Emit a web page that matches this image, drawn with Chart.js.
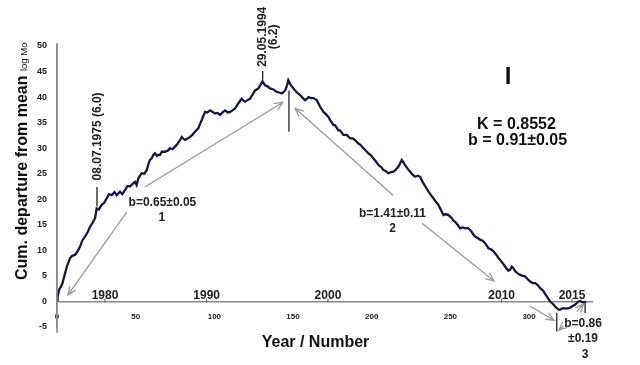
<!DOCTYPE html>
<html>
<head>
<meta charset="utf-8">
<script src="https://cdn.jsdelivr.net/npm/chart.js@4.4.1/dist/chart.umd.min.js"></script>
<style>
  html, body { margin: 0; padding: 0; background: #fff; }
  canvas { display: block; }
</style>
</head>
<body>
<canvas id="chart" width="640" height="365"></canvas>
<script>
// Sequential event number along the record
const seqNumber = [
  0, 0.4, 1.5, 2.5, 3.5, 5.1, 6.5, 8.3, 9.5, 11.4, 13.0, 14.6, 16.0, 17.8, 19.5, 21.0, 22.6, 24.2, 25.2, 26.5,
  28.4, 30.0, 31.6, 33.0, 34.8, 36.5, 38.0, 40.0, 41.5, 43.2, 44.8, 46.4, 48.0, 49.6, 50.6, 51.7, 53.8, 55.5, 57.0, 58.0,
  59.1, 60.2, 61.2, 62.3, 63.5, 64.4, 65.5, 66.6, 68.7, 70.8, 71.8, 73.5, 75.0, 76.5, 78.2, 79.3, 80.4, 81.4, 83.0, 84.6,
  86.0, 87.7, 89.8, 91.0, 92.0, 93.0, 94.1, 95.5, 97.3, 99.0, 100.4, 102.0, 103.6, 105.2, 106.8, 108.5, 110.0, 111.5, 113.2, 115.3,
  117.4, 118.5, 119.5, 121.0, 122.7, 124.3, 125.9, 128.0, 129.2, 130.6, 131.4, 132.2, 133.8, 135.4, 137.5, 139.7, 141.3, 142.9, 144.0, 145.0,
  146.2, 147.0, 148.5, 150.2, 151.3, 152.8, 154.5, 156.6, 157.7, 159.0, 159.8, 161.5, 163.0, 164.0, 165.1, 166.1, 167.2, 168.5, 169.3, 170.4,
  172.5, 173.6, 175.7, 176.7, 178.8, 179.9, 182.0, 184.2, 186.3, 188.0, 189.4, 191.5, 193.0, 194.7, 196.3, 197.9, 199.5, 201.1, 202.7, 204.3,
  206.0, 207.5, 209.0, 210.6, 212.2, 213.8, 215.0, 217.0, 218.0, 219.1, 220.2, 221.2, 222.8, 224.4, 226.0, 227.6, 229.2, 230.8, 232.0, 232.9,
  234.5, 236.1, 237.7, 239.2, 240.8, 242.4, 244.0, 245.6, 247.2, 248.8, 250.9, 252.0, 253.0, 254.6, 256.2, 257.8, 259.4, 261.0, 262.6, 264.2,
  265.7, 267.3, 268.9, 270.5, 272.1, 273.2, 274.2, 275.8, 277.4, 279.0, 280.6, 282.2, 283.7, 285.3, 286.9, 288.0, 289.0, 290.1, 291.2, 292.8,
  294.3, 296.0, 297.5, 299.0, 300.7, 302.3, 303.9, 305.5, 307.1, 308.2, 309.2, 310.2, 311.3, 312.3, 313.4, 314.5, 315.5, 316.6, 317.7, 318.8,
  319.8, 320.9, 321.9, 323.5, 325.1, 326.2, 327.2, 328.3, 329.3, 330.4, 331.5, 332.5, 333.6, 334.6, 335.5, 336.3
];

// Cumulative departure from the mean magnitude (log Mo)
const cumDeparture = [
  0.3, 1.0, 2.4, 2.9, 3.6, 5.5, 7.0, 8.5, 8.9, 9.1, 9.8, 10.7, 11.9, 12.7, 13.6, 14.6, 15.4, 16.3, 18.2, 18.0,
  18.9, 19.3, 20.2, 21.0, 20.8, 21.4, 20.8, 21.5, 21.0, 21.8, 22.6, 22.5, 23.0, 23.4, 22.8, 24.1, 25.1, 25.0, 25.7, 26.8,
  27.7, 28.0, 28.7, 29.0, 28.5, 28.7, 28.7, 29.3, 29.3, 29.6, 30.0, 29.8, 30.3, 30.8, 31.6, 32.2, 31.8, 31.6, 31.9, 32.2,
  32.6, 33.2, 33.9, 34.8, 35.5, 36.3, 37.1, 37.0, 37.4, 37.1, 36.8, 36.9, 36.5, 37.0, 37.4, 37.0, 37.1, 37.4, 37.8, 38.8,
  39.7, 39.3, 39.1, 39.4, 39.7, 40.5, 41.3, 41.7, 42.3, 43.1, 42.7, 42.3, 42.1, 41.7, 41.5, 41.0, 40.9, 40.7, 41.0, 41.3,
  42.3, 43.3, 42.4, 41.7, 41.3, 40.8, 40.4, 39.7, 39.4, 39.7, 40.0, 39.8, 39.8, 39.6, 39.4, 38.8, 38.1, 37.5, 37.1, 36.8,
  36.1, 35.5, 34.5, 34.5, 33.5, 33.5, 32.6, 32.6, 31.9, 31.9, 31.6, 30.9, 30.6, 30.0, 29.5, 29.0, 28.6, 28.0, 27.4, 26.7,
  26.3, 25.7, 25.5, 25.1, 25.3, 25.4, 25.7, 26.4, 27.0, 27.7, 27.2, 26.7, 26.0, 25.4, 24.8, 24.4, 24.6, 24.4, 23.6, 23.1,
  22.3, 21.5, 20.8, 20.2, 19.5, 18.9, 17.9, 16.9, 17.1, 16.9, 16.3, 15.8, 15.6, 15.0, 14.3, 14.5, 14.3, 14.4, 14.0, 13.3,
  12.7, 12.4, 12.1, 11.9, 11.4, 10.9, 10.4, 10.2, 9.8, 9.2, 8.5, 7.9, 7.3, 6.6, 6.0, 6.2, 6.8, 6.5, 5.9, 5.5,
  5.2, 5.0, 4.9, 4.4, 3.9, 3.6, 3.6, 3.2, 2.6, 2.3, 2.0, 1.5, 1.0, 0.5, 0.0, -0.3, -0.6, -1.0, -1.3, -1.6,
  -1.6, -1.4, -1.3, -1.4, -1.3, -1.2, -1.0, -0.8, -0.6, -0.3, 0.0, 0.1, -0.1, -0.2, -0.1, 0.0
];

const yTicks = [-5, 0, 5, 10, 15, 20, 25, 30, 35, 40, 45, 50];
const xTicks = [0, 50, 100, 150, 200, 250, 300];
const yearLabels = ['1980', '1990', '2000', '2010', '2015'];
const yearAtNumber = [30.5, 95.1, 172.2, 282.6, 327.3];

const FONT = 'Arial, "Liberation Sans", Helvetica, sans-serif';

// Segment boundaries and event markers, in (number, value) units
const markers = [
  { n: 25.4, v1: 18.6, v2: 22.4 },
  { n: 130.7, v1: 43.4, v2: 45.1 },
  { n: 147.4, v1: 33.2, v2: 41.3 },
  { n: 317.6, v1: -2.2, v2: -5.9 },
  { n: 335.6, v1: 0.0, v2: -2.3 }
];

// Trend arrows (tail -> head)
const arrows = [
  { from: [44.3, 17.5], to: [7.0, 1.3] },
  { from: [55.9, 22.4], to: [143.6, 39.0] },
  { from: [213.5, 20.8], to: [151.3, 37.8] },
  { from: [232.0, 15.3], to: [277.7, 4.0] },
  { from: [300.6, -0.9], to: [315.9, -3.7] },
  { from: [321.9, -4.8], to: [318.9, -5.6] },
  { from: [330.3, -2.0], to: [334.6, -0.5] }
];

const segmentNotes = [
  { text: 'b=0.65\u00b10.05', n: 67.0, v: 19.3 },
  { text: '1', n: 66.7, v: 16.3 },
  { text: 'b=1.41\u00b10.11', n: 213.2, v: 17.1 },
  { text: '2', n: 213.2, v: 14.2 },
  { text: 'b=0.86', n: 334.3, v: -4.4 },
  { text: '\u00b10.19', n: 334.3, v: -7.3 },
  { text: '3', n: 335.6, v: -10.4 }
];

const decor = {
  id: 'decor',
  afterDraw(chart) {
    const { ctx, scales: { x, y } } = chart;
    const P = (n, v) => [x.getPixelForValue(n), y.getPixelForValue(v)];
    ctx.save();

    // axis line overhang
    ctx.strokeStyle = '#8a8a8a';
    ctx.lineWidth = 1.5;
    ctx.beginPath();
    ctx.moveTo(x.left, y.top - 3);
    ctx.lineTo(x.left, y.bottom + 6);
    ctx.stroke();

    // calendar years along the zero line
    ctx.fillStyle = '#222';
    ctx.font = 'bold 12px ' + FONT;
    ctx.textAlign = 'center';
    ctx.textBaseline = 'alphabetic';
    const y0 = y.getPixelForValue(0);
    yearAtNumber.forEach((n, i) => {
      const px = x.getPixelForValue(n);
      ctx.fillText(yearLabels[i], px, y0 - 2);
      ctx.strokeStyle = '#555';
      ctx.lineWidth = 1;
      ctx.beginPath();
      ctx.moveTo(px, y0 - 3);
      ctx.lineTo(px, y0 + 1);
      ctx.stroke();
    });

    // markers
    ctx.strokeStyle = '#222';
    ctx.lineWidth = 1.3;
    markers.forEach(m => {
      const [px, a] = P(m.n, m.v1);
      const b = y.getPixelForValue(m.v2);
      ctx.beginPath();
      ctx.moveTo(px, a);
      ctx.lineTo(px, b);
      ctx.stroke();
    });

    // arrows
    ctx.strokeStyle = '#9b9b9b';
    ctx.lineWidth = 1.3;
    arrows.forEach(a => {
      const [x1, y1] = P(a.from[0], a.from[1]);
      const [x2, y2] = P(a.to[0], a.to[1]);
      const ang = Math.atan2(y2 - y1, x2 - x1);
      const L = 9, w = 0.4;
      ctx.beginPath();
      ctx.moveTo(x1, y1);
      ctx.lineTo(x2, y2);
      ctx.moveTo(x2 - L * Math.cos(ang - w), y2 - L * Math.sin(ang - w));
      ctx.lineTo(x2, y2);
      ctx.lineTo(x2 - L * Math.cos(ang + w), y2 - L * Math.sin(ang + w));
      ctx.stroke();
    });

    // slope labels
    ctx.fillStyle = '#222';
    ctx.font = 'bold 12px ' + FONT;
    ctx.textAlign = 'center';
    ctx.textBaseline = 'middle';
    segmentNotes.forEach(t => {
      const [px, py] = P(t.n, t.v);
      ctx.fillText(t.text, px, py);
    });

    // dated event labels (vertical)
    const vText = (lines, n, v, gap) => {
      const [px, py] = P(n, v);
      ctx.save();
      ctx.translate(px, py);
      ctx.rotate(-Math.PI / 2);
      ctx.textAlign = 'center';
      ctx.textBaseline = 'middle';
      lines.forEach((s, i) => ctx.fillText(s, 0, (i - (lines.length - 1) / 2) * gap));
      ctx.restore();
    };
    vText(['08.07.1975 (6.0)'], 26.1, 32.3, 0);
    vText(['29.05.1994', '(6.2)'], 134.1, 51.8, 11);

    // panel summary
    ctx.fillStyle = '#111';
    ctx.textAlign = 'center';
    ctx.textBaseline = 'middle';
    ctx.font = 'bold 24px ' + FONT;
    let [px, py] = P(286.6, 43.9);
    ctx.fillText('I', px, py);
    ctx.font = 'bold 16px ' + FONT;
    [px, py] = P(292.0, 34.7);
    ctx.fillText('K = 0.8552', px, py);
    [px, py] = P(292.7, 31.4);
    ctx.fillText('b = 0.91\u00b10.05', px, py);

    // axis titles
    ctx.fillStyle = '#111';
    ctx.font = 'bold 16px ' + FONT;
    ctx.textAlign = 'center';
    ctx.textBaseline = 'middle';
    ctx.fillText('Year / Number', (x.left + x.right) / 2 - 9, 343);

    ctx.save();
    ctx.translate(27, 280);
    ctx.rotate(-Math.PI / 2);
    ctx.textAlign = 'left';
    ctx.textBaseline = 'alphabetic';
    ctx.font = 'bold 16px ' + FONT;
    const main = 'Cum. departure from mean';
    ctx.fillText(main, 0, 0);
    const w = ctx.measureText(main + ' ').width;
    ctx.font = '9.5px ' + FONT;
    ctx.fillText('log Mo', w, 0);
    ctx.restore();

    ctx.restore();
  }
};

new Chart(document.getElementById('chart'), {
  type: 'line',
  data: {
    datasets: [{
      data: seqNumber.map((n, i) => ({ x: n, y: cumDeparture[i] })),
      borderColor: '#16164a',
      borderWidth: 2.3,
      pointRadius: 0,
      tension: 0,
      fill: false
    }]
  },
  options: {
    responsive: false,
    animation: false,
    devicePixelRatio: 1,
    layout: { padding: { left: 0, right: 48, top: 46, bottom: 38 } },
    plugins: { legend: { display: false }, tooltip: { enabled: false } },
    scales: {
      x: {
        type: 'linear',
        min: 0,
        max: 340,
        position: { y: 0 },
        grid: { display: false, drawTicks: false },
        border: { display: true, color: '#8a8a8a', width: 1.5 },
        afterBuildTicks: s => { s.ticks = xTicks.map(v => ({ value: v })); },
        ticks: {
          padding: 11,
          color: '#222',
          font: { family: FONT, size: 8, weight: 'bold' },
          maxRotation: 0
        }
      },
      y: {
        type: 'linear',
        min: -5,
        max: 50,
        grid: { display: false, drawTicks: false },
        border: { display: true, color: '#8a8a8a', width: 1.5 },
        afterBuildTicks: s => { s.ticks = yTicks.map(v => ({ value: v })); },
        afterFit: s => { s.width = 57; },
        ticks: {
          padding: 10,
          color: '#222',
          font: { family: FONT, size: 9, weight: 'bold' }
        }
      }
    }
  },
  plugins: [decor]
});
</script>
</body>
</html>
